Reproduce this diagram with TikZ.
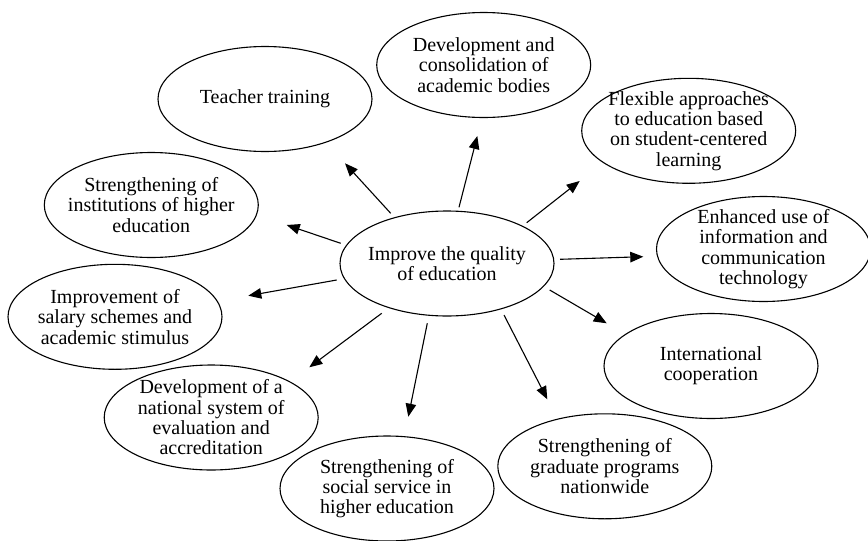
\documentclass[tikz,border=0pt]{standalone}
\usepackage{fontspec}
\setmainfont{Liberation Serif}
\usetikzlibrary{shapes.geometric,arrows.meta}
\begin{document}
\begin{tikzpicture}[x=1pt,y=-1pt,
  bub/.style={draw,ellipse,line width=1.1pt,inner xsep=-40pt,inner ysep=-20pt,align=center,
    minimum width=214,minimum height=105,
    font=\fontsize{20}{20.3}\selectfont},
  arr/.style={line width=1.1pt,-{Triangle[length=13pt,width=10.5pt]}}]
\useasboundingbox (0,0) rectangle (868,541);
\node[bub] (c) at (447,263.5) {Improve the quality\\of education};
\node[bub] (tt) at (265,99) {Teacher training};
\node[bub] (dc) at (483.7,65) {Development and\\consolidation of\\academic bodies};
\node[bub] (fa) at (688.7,130.8) {Flexible approaches\\to education based\\on student-centered\\learning};
\node[bub] (eu) at (763.5,249) {Enhanced use of\\information and\\communication\\technology};
\node[bub] (ic) at (711,366) {International\\cooperation};
\node[bub] (gp) at (604.8,466.3) {Strengthening of\\graduate programs\\nationwide};
\node[bub] (ss) at (387,488.5) {Strengthening of\\social service in\\higher education};
\node[bub] (ns) at (211.2,417.5) {Development of a\\national system of\\evaluation and\\accreditation};
\node[bub] (sa) at (115,316.8) {Improvement of\\salary schemes and\\academic stimulus};
\node[bub] (si) at (151.3,205) {Strengthening of\\institutions of higher\\education};
% arrow ends
\coordinate (s1) at (390.7,213.3); \coordinate (e1) at (345,163.3);
\coordinate (s2) at (459,207.3); \coordinate (e2) at (477.3,136);
\coordinate (s3) at (340.7,243.3); \coordinate (e3) at (286.7,225);
\coordinate (s4) at (526.7,222.7); \coordinate (e4) at (579.7,181);
\coordinate (s5) at (560,259.3); \coordinate (e5) at (643.3,256.7);
\coordinate (s6) at (549.7,290); \coordinate (e6) at (606.7,323.3);
\coordinate (s7) at (504,315); \coordinate (e7) at (547.3,399.3);
\coordinate (s8) at (427.3,323.3); \coordinate (e8) at (408.3,416.7);
\coordinate (s9) at (381.7,313.3); \coordinate (e9) at (309.3,367.3);
\coordinate (s10) at (336.7,280); \coordinate (e10) at (248.3,295.7);
\foreach \i in {1,...,10} \draw[arr] (s\i) -- (e\i);
\end{tikzpicture}
\end{document}
